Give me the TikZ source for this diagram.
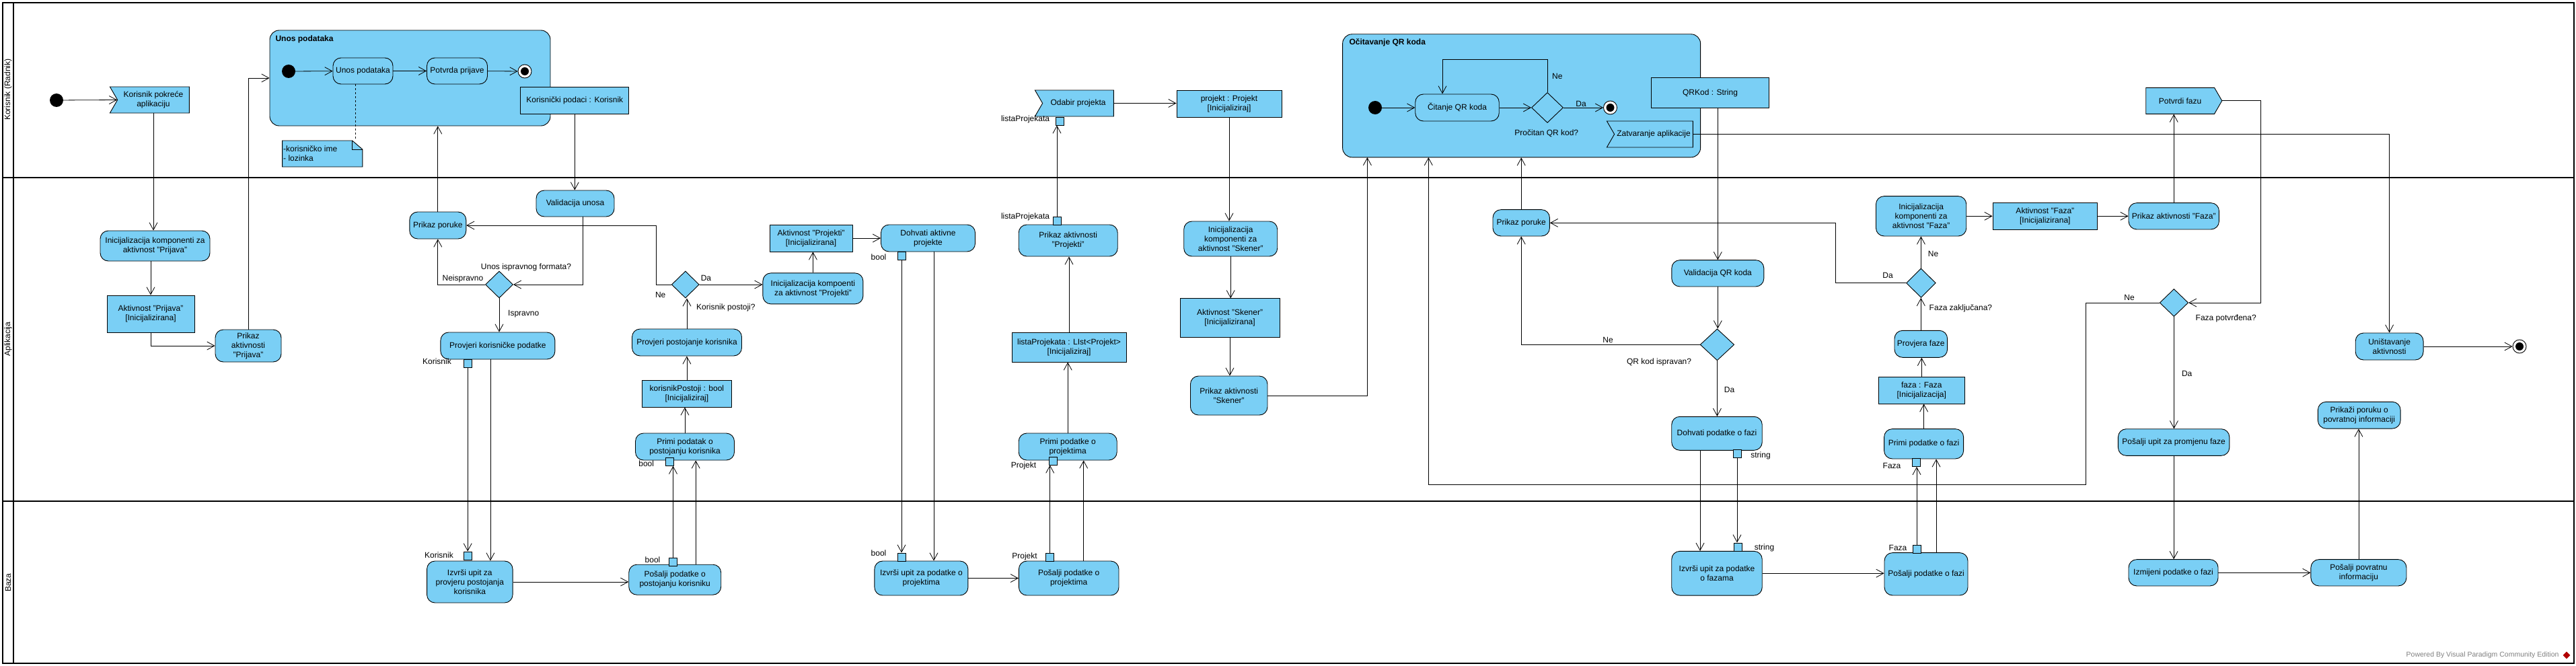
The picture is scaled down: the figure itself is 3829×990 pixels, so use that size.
\documentclass[tikz,border=0pt]{standalone}
\usepackage{fontspec}
\setmainfont{Liberation Sans}
\usetikzlibrary{arrows.meta, positioning, calc, shapes.geometric, shapes.symbols}

\definecolor{vpblue}{RGB}{122,207,245}
\newcommand{\vpfont}{\fontsize{12}{14}\selectfont}

\tikzset{
  actionbox/.style={draw, fill=vpblue, rounded corners=12pt, align=center, inner sep=1pt, line width=0.9pt},
  objbox/.style={draw, fill=vpblue, align=center, inner sep=1pt, line width=0.9pt},
  pinbox/.style={draw, fill=vpblue, minimum size=12pt, inner sep=0pt, line width=0.9pt},
  choice/.style={diamond, draw, fill=vpblue, inner sep=0pt, line width=0.9pt},
  startnode/.style={circle, fill=black, minimum size=20pt, inner sep=0pt},
  endnode/.style={circle, draw, fill=white, line width=0.9pt, minimum size=20pt, inner sep=0pt,
    path picture={\fill[black] (path picture bounding box.center) circle (6pt);}},
  acceptev/.style={signal, signal from=west, signal to=nowhere, signal pointer angle=120,
    draw, fill=vpblue, align=center, inner sep=1pt, line width=0.9pt},
  sendev/.style={signal, signal to=east, signal from=nowhere, signal pointer angle=120,
    draw, fill=vpblue, align=center, inner sep=1pt, line width=0.9pt},
  composite/.style={draw, fill=vpblue, rounded corners=14pt, line width=0.9pt},
  flow/.style={-{Straight Barb[length=11pt,width=12pt]}, line width=0.8pt},
  lbl/.style={inner sep=1pt},
  lane/.style={line width=1.8pt}
}

\begin{document}
\begin{tikzpicture}[x=1pt, y=-1pt, font=\vpfont]
\useasboundingbox (0,0) rectangle (3829,990);

% swimlanes
\draw[lane] (4,4) rectangle (3826,986);
\draw[lane] (20,4) -- (20,986);
\draw[lane] (4,264) -- (3826,264);
\draw[lane] (4,745) -- (3826,745);
\node[rotate=90] (lnKor) at (12,133) {Korisnik (Radnik)};
\node[rotate=90] (lnApl) at (12,504) {Aplikacija};
\node[rotate=90] (lnBaz) at (12,866) {Baza};

% --- Korisnik (Radnik) ---
\node[startnode] (s1) at (84,149) {};
\node[acceptev, minimum width=118pt, minimum height=39pt] (pokrece) at (228,148.5) {Korisnik pokreće\\aplikaciju};

\node[composite, minimum width=417pt, minimum height=142pt] (unos) at (609.5,116) {};
\node[font=\vpfont\bfseries, anchor=west] (unosT) at (406,58) {Unos podataka};
\node[startnode] (s2) at (429,106) {};
\node[actionbox, minimum width=89pt, minimum height=39pt] (unosA) at (539.5,105.5) {Unos podataka};
\node[actionbox, minimum width=90pt, minimum height=39pt] (potvrda) at (679.5,105.5) {Potvrda prijave};
\node[endnode] (e1) at (780,106) {};
\node[objbox, minimum width=161pt, minimum height=40pt] (korPod) at (854.3,149) {Korisnički podaci : Korisnik};

% note
\draw[fill=vpblue, line width=0.9pt] (419.6,209) -- (523.6,209) -- (538.8,222) -- (538.8,248) -- (419.6,248) -- cycle;
\draw[line width=0.9pt] (523.6,209) -- (523.6,222) -- (538.8,222);
\node[anchor=west, align=left, inner sep=0pt] (note) at (421,228) {-korisničko ime\\- lozinka};
\coordinate (noteTop) at (528.6,209);

\node[acceptev, minimum width=117pt, minimum height=39pt] (odabir) at (1602.5,153.5) {Odabir projekta};
\node[pinbox] (pLista1) at (1575.8,180) {};
\node[objbox, minimum width=156pt, minimum height=40pt] (projekt) at (1827,154) {projekt : Projekt\\{[Inicijaliziraj]}};

\node[composite, minimum width=532pt, minimum height=183pt] (qr) at (2261.6,142.3) {};
\node[font=\vpfont\bfseries, anchor=west] (qrT) at (2002,63) {Očitavanje QR koda};
\node[startnode] (s3) at (2044,160) {};
\node[actionbox, minimum width=124.5pt, minimum height=40pt] (citanje) at (2166,160) {Čitanje QR koda};
\node[choice, minimum width=47pt, minimum height=45pt] (procitan) at (2300,160) {};
\node[endnode] (e2) at (2393.5,160) {};
\node[objbox, minimum width=175pt, minimum height=44.6pt] (qrKod) at (2542,138) {QRKod : String};
\node[acceptev, minimum width=128pt, minimum height=39pt, inner sep=0pt] (zatvaranje) at (2458,199.5) {Zatvaranje aplikacije};

\node[sendev, minimum width=113pt, minimum height=39pt] (potvrdi) at (3240.6,149.8) {Potvrdi fazu};

% --- Aplikacija ---
\node[actionbox, minimum width=163pt, minimum height=45pt] (initPrijava) at (230.5,365.5) {Inicijalizacija komponenti za\\aktivnost "Prijava"};
\node[objbox, minimum width=130pt, minimum height=55pt] (aktPrijava) at (224,466.5) {Aktivnost "Prijava"\\{[Inicijalizirana]}};
\node[actionbox, minimum width=98pt, minimum height=48pt] (prikPrijava) at (369,514) {Prikaz\\aktivnosti\\"Prijava"};

\node[actionbox, minimum width=84pt, minimum height=40pt] (poruka1) at (650.8,335) {Prikaz poruke};
\node[actionbox, minimum width=116pt, minimum height=39pt] (valid) at (855,302.5) {Validacija unosa};
\node[choice, minimum width=41pt, minimum height=40pt] (format) at (742,423) {};
\node[actionbox, minimum width=170pt, minimum height=40pt] (provPod) at (739.9,514) {Provjeri korisničke podatke};
\node[pinbox] (pKor1) at (695.2,540.3) {};

\node[choice, minimum width=41pt, minimum height=40pt] (postoji) at (1018.8,423) {};
\node[actionbox, minimum width=163pt, minimum height=40pt] (provPost) at (1021,509) {Provjeri postojanje korisnika};
\node[objbox, minimum width=133pt, minimum height=40pt] (korPostoji) at (1020.9,585) {korisnikPostoji : bool\\{[Inicijaliziraj]}};
\node[actionbox, minimum width=147pt, minimum height=40pt] (primiPost) at (1018,664) {Primi podatak o\\postojanju korisnika};
\node[pinbox] (pBool1) at (995,686.3) {};

\node[actionbox, minimum width=149pt, minimum height=46pt] (initProj) at (1208.4,428.9) {Inicijalizacija kompoenti\\za aktivnost "Projekti"};
\node[objbox, minimum width=123pt, minimum height=40pt] (aktProj) at (1205.5,354) {Aktivnost "Projekti"\\{[Inicijalizirana]}};
\node[actionbox, minimum width=140pt, minimum height=40pt] (dohvProj) at (1379.5,354) {Dohvati aktivne\\projekte};
\node[pinbox] (pBool2) at (1340,380.5) {};

\node[actionbox, minimum width=147pt, minimum height=47pt] (prikProj) at (1587.7,357.5) {Prikaz aktivnosti\\"Projekti"};
\node[pinbox] (pLista2) at (1571,328) {};
\node[objbox, minimum width=170pt, minimum height=44pt] (listaProj) at (1589,516) {listaProjekata : LIst<Projekt>\\{[Inicijaliziraj]}};
\node[actionbox, minimum width=146pt, minimum height=40pt] (primiProj) at (1587.2,664) {Primi podatke o\\projektima};
\node[pinbox] (pProj1) at (1565.8,685) {};

\node[actionbox, minimum width=139pt, minimum height=52pt] (initSken) at (1829.2,355) {Inicijalizacija\\komponenti za\\aktivnost "Skener"};
\node[objbox, minimum width=148pt, minimum height=58pt] (aktSken) at (1828,472.8) {Aktivnost "Skener"\\{[Inicijalizirana]}};
\node[actionbox, minimum width=114.5pt, minimum height=58pt] (prikSken) at (1826.7,588) {Prikaz aktivnosti\\"Skener"};

\node[actionbox, minimum width=84.4pt, minimum height=39.3pt] (poruka2) at (2261.2,331.3) {Prikaz poruke};
\node[actionbox, minimum width=137pt, minimum height=39.3pt] (validQR) at (2553.3,406.3) {Validacija QR koda};
\node[choice, minimum width=50.6pt, minimum height=47pt] (ispravan) at (2552.4,512.3) {};
\node[actionbox, minimum width=134.5pt, minimum height=50pt] (dohvFaza) at (2552,644.3) {Dohvati podatke o fazi};
\node[pinbox] (pStr1) at (2582,674) {};

\node[actionbox, minimum width=134.3pt, minimum height=59.3pt] (initFaza) at (2855.6,321.3) {Inicijalizacija\\komponenti za\\aktivnost "Faza"};
\node[objbox, minimum width=155.6pt, minimum height=39.3pt] (aktFaza) at (3039.8,321.3) {Aktivnost "Faza"\\{[Inicijalizirana]}};
\node[actionbox, minimum width=134.4pt, minimum height=39.3pt] (prikFaza) at (3231.2,321.3) {Prikaz aktivnosti "Faza"};
\node[choice, minimum width=43.8pt, minimum height=43.4pt] (zaklj) at (2855.4,420.7) {};
\node[actionbox, minimum width=78.6pt, minimum height=40pt] (provFaza) at (2855.3,511.3) {Provjera faze};
\node[objbox, minimum width=127.3pt, minimum height=39.3pt] (fazaObj) at (2856.3,580.3) {faza : Faza\\{[Inicijalizacija]}};
\node[actionbox, minimum width=118pt, minimum height=44.3pt] (primiFaza) at (2859.6,659.8) {Primi podatke o fazi};
\node[pinbox] (pFaza1) at (2848.5,687.5) {};

\node[choice, minimum width=42.4pt, minimum height=41pt] (potvrdena) at (3231.4,450) {};
\node[actionbox, minimum width=165.4pt, minimum height=39.6pt] (posPromj) at (3231.1,657.5) {Pošalji upit za promjenu faze};
\node[actionbox, minimum width=100.8pt, minimum height=40pt] (unist) at (3551.6,515) {Uništavanje\\aktivnosti};
\node[endnode] (e3) at (3745,515) {};
\node[actionbox, minimum width=122.7pt, minimum height=39.7pt] (prikPovr) at (3506.7,617.2) {Prikaži poruku o\\povratnoj informaciji};

% --- Baza ---
\node[actionbox, minimum width=127.5pt, minimum height=62pt] (izvPost) at (698.3,865) {Izvrši upit za\\provjeru postojanja\\korisnika};
\node[pinbox] (pKor2) at (695,826) {};
\node[actionbox, minimum width=137pt, minimum height=45pt] (posPost) at (1003.2,861.7) {Pošalji podatke o\\postojanju korisniku};
\node[pinbox] (pBool3) at (1000.5,835) {};
\node[actionbox, minimum width=139pt, minimum height=51pt] (izvProj) at (1369.4,859.5) {Izvrši upit za podatke o\\projektima};
\node[pinbox] (pBool4) at (1340,828) {};
\node[actionbox, minimum width=148.6pt, minimum height=51pt] (posProj) at (1588.7,859.5) {Pošalji podatke o\\projektima};
\node[pinbox] (pProj2) at (1560.7,828) {};
\node[actionbox, minimum width=134.5pt, minimum height=65.7pt] (izvFaza) at (2552,852.2) {Izvrši upit za podatke\\o fazama};
\node[pinbox] (pStr2) at (2583,813) {};
\node[actionbox, minimum width=124pt, minimum height=63.3pt] (posFaza) at (2863,853.3) {Pošalji podatke o fazi};
\node[pinbox] (pFaza2) at (2849,816) {};
\node[actionbox, minimum width=133pt, minimum height=39.3pt] (izmijeni) at (3230.5,851.3) {Izmijeni podatke o fazi};
\node[actionbox, minimum width=142pt, minimum height=39.3pt] (posPovr) at (3505.9,851.3) {Pošalji povratnu\\informaciju};

% pin labels
\node[lbl, anchor=east] (lKor1) at (672,537) {Korisnik};
\node[lbl, anchor=east] (lKor2) at (675,825) {Korisnik};
\node[lbl] (lBool1) at (960.7,689) {bool};
\node[lbl] (lBool3) at (970,831.7) {bool};
\node[lbl] (lBool2) at (1306,382) {bool};
\node[lbl] (lBool4) at (1306,822) {bool};
\node[lbl] (lLista1) at (1524,177) {listaProjekata};
\node[lbl] (lLista2) at (1524,322) {listaProjekata};
\node[lbl] (lProj1) at (1521.5,692) {Projekt};
\node[lbl] (lProj2) at (1523,827) {Projekt};
\node[lbl] (lStr1) at (2617,677) {string};
\node[lbl] (lStr2) at (2622.5,814) {string};
\node[lbl] (lFaza1) at (2812,692) {Faza};
\node[lbl] (lFaza2) at (2821,814) {Faza};

% guards
\node[lbl] (gFormat) at (782,397) {Unos ispravnog formata?};
\node[lbl, anchor=east] (gNeisp) at (719.5,414) {Neispravno};
\node[lbl, anchor=west] (gIsp) at (754,467) {Ispravno};
\node[lbl] (gNe1) at (981.7,438) {Ne};
\node[lbl, anchor=west] (gDa1) at (1040.6,413) {Da};
\node[lbl, anchor=west] (gPostoji) at (1034,457) {Korisnik postoji?};
\node[lbl] (gNe2) at (2314.8,113) {Ne};
\node[lbl] (gDa2) at (2350,154) {Da};
\node[lbl] (gProc) at (2298.8,198) {Pročitan QR kod?};
\node[lbl] (gNe3) at (2390,505) {Ne};
\node[lbl] (gIspr) at (2466,538) {QR kod ispravan?};
\node[lbl] (gDa3) at (2570.5,579) {Da};
\node[lbl] (gDa4) at (2806,409) {Da};
\node[lbl] (gZaklj) at (2914.4,458) {Faza zaključana?};
\node[lbl] (gNe4) at (2873.5,377) {Ne};
\node[lbl] (gNe5) at (3165,442.7) {Ne};
\node[lbl] (gPotv) at (3308.7,473) {Faza potvrđena?};
\node[lbl] (gDa5) at (3250.7,555) {Da};

% bend points
\coordinate (validOut) at ($(valid.south)+(11,0)$);
\coordinate (provOut) at ($(provPod.south)+(-11,0)$);
\coordinate (posPostOut) at ($(posPost.north)+(31,0)$);
\coordinate (dohvOut) at ($(dohvProj.south)+(8.5,0)$);
\coordinate (posProjOut) at ($(posProj.north)+(22,0)$);
\coordinate (dohvFazaOut) at ($(dohvFaza.south)+(-25,0)$);
\coordinate (posFazaOut) at ($(posFaza.north)+(15,0)$);
\coordinate (citIn) at ($(citanje.north)+(-22,0)$);
\coordinate (qrIn1) at (2032.4,234);
\coordinate (qrIn2) at (2123.3,234);
\coordinate (neBend) at (3100.8,720);

% flows
\draw[flow] (s1) -- (pokrece.west);
\draw[flow] (pokrece.south) -- (pokrece.south |- initPrijava.north);
\draw[flow] (aktPrijava.north |- initPrijava.south) -- (aktPrijava.north);
\draw[flow] (aktPrijava.south) |- (prikPrijava.west);
\draw[flow] (prikPrijava.north) |- (unos.west);
\draw[flow] (s2) -- (unosA);
\draw[flow] (unosA) -- (potvrda);
\draw[flow] (potvrda) -- (e1);
\draw[dashed, line width=0.8pt] (noteTop |- unosA.south) -- (noteTop);
\draw[flow] (korPod.south) -- (korPod.south |- valid.north);
\draw[flow] (validOut) |- (format.east);
\draw[flow] (format.west) -| (poruka1.south);
\draw[flow] (poruka1.north) -- (poruka1.north |- unos.south);
\draw[flow] (format.south) -- (format.south |- provPod.north);
\draw[flow] (pKor1.south) -- (pKor1.south |- pKor2.north);
\draw[flow] (provOut) -- (provOut |- izvPost.north);
\draw[flow] (izvPost.east) -- (izvPost.east -| posPost.west);
\draw[flow] (pBool3.north) -- (pBool3.north |- pBool1.south);
\draw[flow] (posPostOut) -- (posPostOut |- primiPost.south);
\draw[flow] (primiPost.north) -- (primiPost.north |- korPostoji.south);
\draw[flow] (korPostoji.north) -- (korPostoji.north |- provPost.south);
\draw[flow] (provPost.north) -- (provPost.north |- postoji.south);
\draw[flow] (postoji.west) -- ++(-22,0) |- (poruka1.east);
\draw[flow] (postoji.east) -- (postoji.east -| initProj.west);
\draw[flow] (initProj.north) -- (initProj.north |- aktProj.south);
\draw[flow] (aktProj.east) -- (aktProj.east -| dohvProj.west);
\draw[flow] (pBool2.south) -- (pBool2.south |- pBool4.north);
\draw[flow] (dohvOut) -- (dohvOut |- izvProj.north);
\draw[flow] (izvProj.east) -- (izvProj.east -| posProj.west);
\draw[flow] (pProj2.north) -- (pProj2.north |- pProj1.south);
\draw[flow] (posProjOut) -- (posProjOut |- primiProj.south);
\draw[flow] (primiProj.north) -- (primiProj.north |- listaProj.south);
\draw[flow] (listaProj.north) -- (listaProj.north |- prikProj.south);
\draw[flow] (pLista2.north) -- (pLista2.north |- pLista1.south);
\draw[flow] (odabir.east) -- (odabir.east -| projekt.west);
\draw[flow] (projekt.south) -- (projekt.south |- initSken.north);
\draw[flow] (initSken.south) -- (initSken.south |- aktSken.north);
\draw[flow] (aktSken.south) -- (aktSken.south |- prikSken.north);
\draw[flow] (prikSken.east) -| (qrIn1);
\draw[flow] (s3) -- (citanje);
\draw[flow] (citanje) -- (procitan);
\draw[flow] (procitan) -- (e2);
\draw[flow] (procitan.north) -- ++(0,-48.5) -| (citIn);
\draw[flow] (qrKod.south -| validQR.north) -- (validQR.north);
\draw[flow] (validQR.south) -- (validQR.south |- ispravan.north);
\draw[flow] (ispravan.south) -- (ispravan.south |- dohvFaza.north);
\draw[flow] (ispravan.west) -| (poruka2.south);
\draw[flow] (poruka2.north) -- (poruka2.north |- qr.south);
\draw[flow] (dohvFazaOut) -- (dohvFazaOut |- izvFaza.north);
\draw[flow] (pStr1.south) -- (pStr1.south |- pStr2.north);
\draw[flow] (izvFaza.east) -- (izvFaza.east -| posFaza.west);
\draw[flow] (pFaza2.north) -- (pFaza2.north |- pFaza1.south);
\draw[flow] (posFazaOut) -- (posFazaOut |- primiFaza.south);
\draw[flow] (primiFaza.north) -- (primiFaza.north |- fazaObj.south);
\draw[flow] (fazaObj.north) -- (fazaObj.north |- provFaza.south);
\draw[flow] (provFaza.north) -- (provFaza.north |- zaklj.south);
\draw[flow] (zaklj.west) -- ++(-104.5,0) |- (poruka2.east);
\draw[flow] (zaklj.north) -- (zaklj.north |- initFaza.south);
\draw[flow] (initFaza.east) -- (aktFaza.west);
\draw[flow] (aktFaza.east) -- (prikFaza.west);
\draw[flow] (prikFaza.north) -- (prikFaza.north |- potvrdi.south);
\draw[flow] (potvrdi.east) -- ++(57,0) |- (potvrdena.east);
\draw[flow] (potvrdena.west) -| (neBend) -| (qrIn2);
\draw[flow] (potvrdena.south) -- (potvrdena.south |- posPromj.north);
\draw[flow] (posPromj.south) -- (posPromj.south |- izmijeni.north);
\draw[flow] (izmijeni.east) -- (posPovr.west);
\draw[flow] (posPovr.north) -- (posPovr.north |- prikPovr.south);
\draw[flow] (zatvaranje.east) -| (unist.north);
\draw[flow] (unist) -- (e3);

% watermark
\node[text=gray, anchor=east, font=\fontsize{10.5}{12}\selectfont] (wm) at (3807,974) {Powered By Visual Paradigm Community Edition};
\node[diamond, fill=red!70!black, minimum size=11pt, inner sep=0pt] (wmLogo) at (3815,974) {};
\end{tikzpicture}
\end{document}
